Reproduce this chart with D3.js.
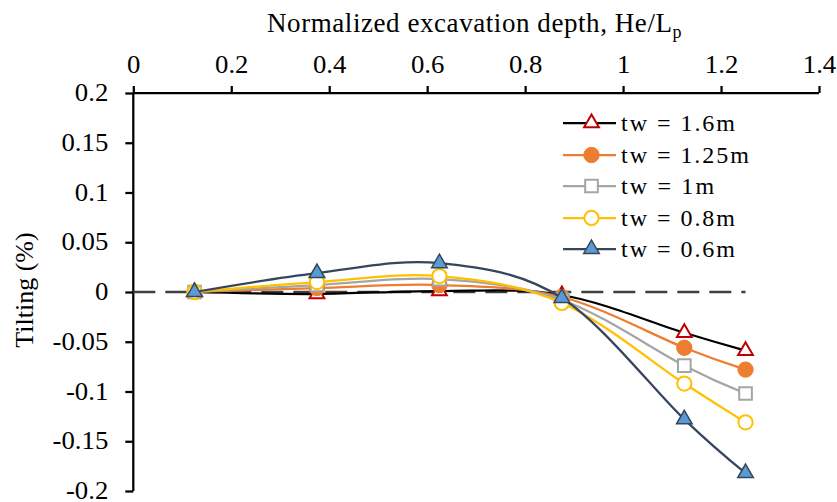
<!DOCTYPE html>
<html><head><meta charset="utf-8">
<script src="https://cdn.jsdelivr.net/npm/d3@7"></script>
<style>body{margin:0;background:#fff}svg{display:block}</style>
</head><body><svg id="c" width="837" height="502"></svg>
<script>
const xValues = [0.125, 0.375, 0.625, 0.875, 1.125, 1.25];
const seriesNames = ["tw = 1.6m", "tw = 1.25m", "tw = 1m", "tw = 0.8m", "tw = 0.6m"];
const tw160 = [0, -0.002, 0.001, -0.003, -0.041, -0.059];
const tw125 = [0, 0.004, 0.007, -0.005, -0.056, -0.078];
const tw100 = [0, 0.007, 0.013, -0.008, -0.074, -0.102];
const tw080 = [0, 0.010, 0.016, -0.011, -0.092, -0.131];
const tw060 = [0, 0.019, 0.029, -0.006, -0.128, -0.182];
const refLineX = [0, 1.25];
const refLineY = [0, 0];
const xTicks = [0, 0.2, 0.4, 0.6, 0.8, 1, 1.2, 1.4];
const yTicks = [0.2, 0.15, 0.1, 0.05, 0, -0.05, -0.1, -0.15, -0.2];

const FONT = '"Liberation Serif"';
const svg = d3.select("#c");
const x = d3.scaleLinear().domain([0, 1.4]).range([133.3, 819]);
const y = d3.scaleLinear().domain([-0.2, 0.2]).range([491, 93]);

const styles = [
  {line:"#000000", sym:d3.symbolTriangle, size:95, fill:"#fff", stroke:"#C00000", sw:2},
  {line:"#ED7D31", sym:d3.symbolCircle, size:185, fill:"#ED7D31", stroke:"#ED7D31", sw:1},
  {line:"#A5A5A5", sym:d3.symbolSquare, size:160, fill:"#fff", stroke:"#A5A5A5", sw:2},
  {line:"#FFC000", sym:d3.symbolCircle, size:160, fill:"#fff", stroke:"#FFC000", sw:2},
  {line:"#36465D", sym:d3.symbolTriangle, size:105, fill:"#5B9BD5", stroke:"#36465D", sw:1.5}
];
const data = [tw160, tw125, tw100, tw080, tw060];

// axes
const xAxis = d3.axisTop(x).tickValues(xTicks).tickSize(7).tickPadding(13).tickFormat(d => String(d));
const gx = svg.append("g").attr("transform", `translate(0,${y(0.2)})`).call(xAxis);
const yAxis = d3.axisLeft(y).tickValues(yTicks).tickSize(8).tickPadding(17).tickFormat(d => String(d));
const gy = svg.append("g").attr("transform", `translate(${x(0)},0)`).call(yAxis);
[gx, gy].forEach(g => {
  g.attr("font-family", null).attr("font-size", null);
  g.select(".domain").attr("stroke", "#000").attr("stroke-width", 2.25);
  g.selectAll(".tick line").attr("stroke", "#000").attr("stroke-width", 2.25);
  g.selectAll(".tick text").style("font-family", FONT).style("font-size", "25px").attr("fill", "#000")
    .each(function() { const L = this.getComputedTextLength(); d3.select(this).attr("textLength", L * 1.07).attr("lengthAdjust", "spacingAndGlyphs"); });
});
gx.select(".domain").attr("d", `M${x(0)},0H${x(1.4)}`);
gy.select(".domain").attr("d", `M0,${y(0.2)}V${y(-0.2)}`);
gy.selectAll(".tick text").attr("dy", "0.3em");

// titles
const t = svg.append("text").attr("x", 267).attr("y", 32).attr("text-anchor", "start")
  .style("font-family", FONT).style("font-size", "27px").attr("fill", "#000");
t.append("tspan").attr("textLength", 405).attr("lengthAdjust", "spacing").text("Normalized excavation depth, He/L");
t.append("tspan").attr("dy", 6).style("font-size", "18px").text("p");
svg.append("text").attr("transform", "translate(33,290) rotate(-90)").attr("text-anchor", "middle")
  .style("font-family", FONT).style("font-size", "26px").attr("fill", "#000").text("Tilting (%)");

// reference dashed line
svg.append("path").attr("d", d3.line().x(d => x(d[0])).y(d => y(d[1]))(refLineX.map((v, i) => [v, refLineY[i]])))
  .attr("stroke", "#404040").attr("stroke-width", 2.5).attr("stroke-dasharray", "22,10").attr("fill", "none");

const line = d3.line().x((d, i) => x(xValues[i])).y(d => y(d)).curve(d3.curveCatmullRom.alpha(0));
data.forEach((vals, k) => {
  const s = styles[k];
  svg.append("path").attr("d", line(vals)).attr("fill", "none").attr("stroke", s.line).attr("stroke-width", 2.25);
  svg.append("g").selectAll("path").data(vals).join("path")
    .attr("transform", (d, i) => `translate(${x(xValues[i])},${y(d)})`)
    .attr("d", d3.symbol().type(s.sym).size(s.size))
    .attr("fill", s.fill).attr("stroke", s.stroke).attr("stroke-width", s.sw);
});

// legend
const legY = [123, 155, 186, 218, 249];
let legScale = null;
seriesNames.forEach((name, k) => {
  const s = styles[k];
  const g = svg.append("g").attr("transform", `translate(0,${legY[k]})`);
  g.append("line").attr("x1", 563).attr("x2", 616).attr("y1", 0).attr("y2", 0).attr("stroke", s.line).attr("stroke-width", 2.25);
  g.append("path").attr("transform", "translate(591.5,0)").attr("d", d3.symbol().type(s.sym).size(s.size))
    .attr("fill", s.fill).attr("stroke", s.stroke).attr("stroke-width", s.sw);
  const tx = g.append("text").attr("x", 621).attr("y", 0).attr("dy", "0.33em")
    .style("font-family", FONT).style("font-size", "24px").attr("fill", "#000").text(name);
  const L = tx.node().getComputedTextLength();
  if (legScale === null) legScale = 114 / L;
  tx.attr("textLength", L * legScale).attr("lengthAdjust", "spacing");
});
</script></body></html>
